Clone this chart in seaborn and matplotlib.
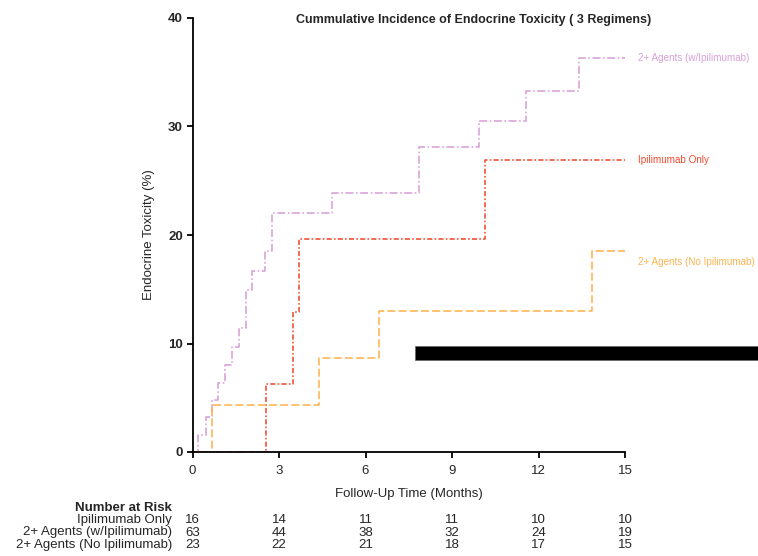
import matplotlib
matplotlib.use("Agg")
import matplotlib.pyplot as plt
import matplotlib.transforms as mtransforms
from matplotlib.patches import Rectangle
import seaborn as sns
import pandas as pd

# ---------------- data ----------------
series_names = ["2+ Agents (w/Ipilimumab)", "Ipilimumab Only", "2+ Agents (No Ipilimumab)"]

pink_t = [0, 0.20, 0.46, 0.69, 0.90, 1.13, 1.38, 1.61, 1.85, 2.08, 2.52, 2.77, 4.84, 7.84, 9.92, 11.55, 13.40, 15.1]
pink_v = [0, 1.6, 3.2, 4.8, 6.4, 8.0, 9.7, 11.4, 14.9, 16.7, 18.5, 22.0, 23.9, 28.1, 30.5, 33.3, 36.3, 36.3]

red_t = [0, 2.54, 3.47, 3.68, 10.16, 15.1]
red_v = [0, 6.3, 12.9, 19.6, 26.9, 26.9]

orange_t = [0, 0.69, 4.37, 6.46, 13.84, 15.1]
orange_v = [0, 4.3, 8.7, 13.0, 18.5, 18.5]

x_ticks = [0, 3, 6, 9, 12, 15]
y_ticks = [0, 10, 20, 30, 40]

risk_labels = ["Ipilimumab Only", "2+ Agents (w/Ipilimumab)", "2+ Agents (No Ipilimumab)"]
risk_ipi = [16, 14, 11, 11, 10, 10]
risk_w = [63, 44, 38, 32, 24, 19]
risk_no = [23, 22, 21, 18, 17, 15]

# ---------------- styles ----------------
colors = {series_names[0]: "#d9a0d6", series_names[1]: "#f04a2e", series_names[2]: "#fdb44f"}
dashes = {series_names[0]: (5, 1.6, 1, 1.6), series_names[1]: (3.2, 1.4, 1, 1.4), series_names[2]: (5, 2)}

df = pd.concat([
    pd.DataFrame({"t": pink_t, "v": pink_v, "group": series_names[0]}),
    pd.DataFrame({"t": red_t, "v": red_v, "group": series_names[1]}),
    pd.DataFrame({"t": orange_t, "v": orange_v, "group": series_names[2]}),
], ignore_index=True)

sns.set_style("white")
plt.rcParams["font.family"] = ["Liberation Sans", "DejaVu Sans"]

fig = plt.figure(figsize=(7.58, 5.56), dpi=100)
ax = fig.add_axes([192.5 / 758, 104 / 556, (625 - 192.5) / 758, (452 - 18) / 556])

sns.lineplot(data=df, x="t", y="v", hue="group", style="group", palette=colors,
             dashes=dashes, drawstyle="steps-post", linewidth=1.15, ax=ax,
             legend=False, estimator=None, sort=False)

ax.set_xlim(0, 15)
ax.set_ylim(0, 40)
ax.set_xticks(x_ticks)
ax.set_yticks(y_ticks)
ax.set_xticklabels([str(v) for v in x_ticks], fontsize=9.5)
ax.set_yticklabels([str(v) for v in y_ticks], fontsize=9.5, fontweight="bold")
for s in ["top", "right"]:
    ax.spines[s].set_visible(False)
for s in ["left", "bottom"]:
    ax.spines[s].set_color("black")
    ax.spines[s].set_linewidth(1.3)
ax.tick_params(axis="both", bottom=True, left=True, direction="out", length=4,
               width=1.3, color="black", pad=3)
ax.tick_params(axis="x", pad=5)

ax.set_xlabel("Follow-Up Time (Months)", fontsize=9.5, labelpad=8)
ax.set_ylabel("Endocrine Toxicity (%)", fontsize=9.5, labelpad=9)

fig.text(474 / 758, 1 - 20 / 556, "Cummulative Incidence of Endocrine Toxicity ( 3 Regimens)",
         ha="center", va="center", fontsize=9, fontweight="bold")

# end labels
label_y = [36.3, 26.9, 17.5]
for name, ly in zip(series_names, label_y):
    ax.text(15.45, ly, name, color=colors[name], fontsize=7.1, ha="left", va="center", clip_on=False)

# black bar
ax.add_patch(Rectangle((7.7, 8.5), 13, 1.3, facecolor="black", edgecolor="#666666",
                       linewidth=0.5, clip_on=False, zorder=5))

# number at risk table
trans = mtransforms.blended_transform_factory(ax.transData, fig.transFigure)
fig.text(172 / 758, 1 - 508 / 556, "Number at Risk", ha="right", va="center", fontsize=9.5, fontweight="bold")
row_y = [520, 532.5, 545]
for lab, vals, ry in zip(risk_labels, [risk_ipi, risk_w, risk_no], row_y):
    fig.text(172 / 758, 1 - ry / 556, lab, ha="right", va="center", fontsize=9.5)
    for xt, v in zip(x_ticks, vals):
        ax.text(xt, 1 - ry / 556, str(v), transform=trans, ha="center", va="center", fontsize=9.5)

fig.savefig("out.png", dpi=100)
